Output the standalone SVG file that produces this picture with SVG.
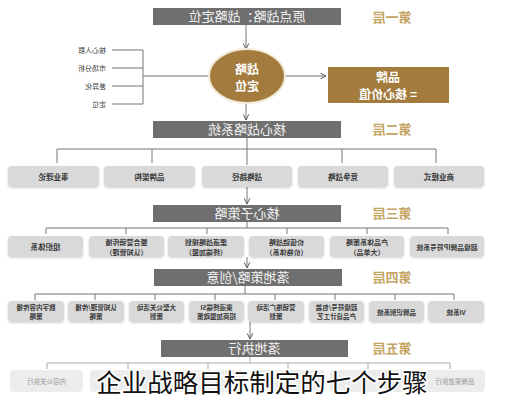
<svg xmlns="http://www.w3.org/2000/svg" width="527" height="400" viewBox="0 0 527 400">
<defs>
<marker id="ar" viewBox="0 0 10 10" refX="9" refY="5" markerWidth="7" markerHeight="7" orient="auto" markerUnits="userSpaceOnUse">
<path d="M1,1 L9,5 L1,9" fill="none" stroke="#555" stroke-width="1.4"/>
</marker>
<filter id="sh" x="-10%" y="-20%" width="120%" height="150%">
<feDropShadow dx="0" dy="1" stdDeviation="0.8" flood-color="#000" flood-opacity="0.18"/>
</filter>
</defs>
<style>
text{font-family:"Noto Sans CJK SC","Noto Sans",sans-serif;text-anchor:middle}
.bar{fill:#6f6f6f}
.bt{fill:#f2f2f2;font-size:13px}
.lay{fill:#c4a462;font-size:13px;font-weight:bold}
.bx{fill:#d9d9d9;filter:url(#sh)}
.bx5{fill:#ececec}
.t{fill:#3a3a3a;font-size:7.5px;font-weight:bold}
.t3{fill:#3a3a3a;font-size:7px;font-weight:bold}
.t4{fill:#3a3a3a;font-size:6.5px;font-weight:bold}
.t5{fill:#9a9a9a;font-size:6.5px}
.gold{fill:#a27b3d}
.wt{fill:#fff;font-size:12px;font-weight:bold}
.ln{stroke:#777;stroke-width:1;fill:none}
.lab{fill:#444;font-size:7px;text-anchor:start}
</style>
<rect width="527" height="400" fill="#fff"/>

<g id="connectors">
<line class="ln" x1="246" y1="25" x2="246" y2="49" marker-end="url(#ar)"/>
<line class="ln" x1="283" y1="76" x2="326" y2="76" marker-end="url(#ar)"/>
<line class="ln" x1="210" y1="76" x2="143" y2="76"/>
<line class="ln" x1="143" y1="50" x2="143" y2="104"/>
<line class="ln" x1="112" y1="50" x2="143" y2="50"/>
<line class="ln" x1="112" y1="68" x2="143" y2="68"/>
<line class="ln" x1="112" y1="86" x2="143" y2="86"/>
<line class="ln" x1="112" y1="104" x2="143" y2="104"/>
<line class="ln" x1="246" y1="102" x2="246" y2="120" marker-end="url(#ar)"/>
<path class="ln" d="M247,138 V149 M57,163 V149 H436 V163 M152,149 V163 M247,149 V165 M342,149 V163"/>
<line class="ln" x1="247" y1="187" x2="247" y2="204" marker-end="url(#ar)"/>
<path class="ln" d="M247,222 V228 M46,234 V228 H448 V234 M126,228 V234 M207,228 V234 M287,228 V234 M367,228 V234"/>
<line class="ln" x1="247" y1="257" x2="247" y2="268" marker-end="url(#ar)"/>
<path class="ln" d="M245,286 V294 M35,300 V294 H454 V300 M95,294 V300 M155,294 V300 M215,294 V300 M275,294 V300 M335,294 V300 M395,294 V300"/>
<line class="ln" x1="250" y1="322" x2="250" y2="339" marker-end="url(#ar)"/>
<path d="M250,357 V363 M47,369 V363 H450 V369 M128,363 V369 M208,363 V369 M288,363 V369 M368,363 V369" stroke="#aaa" stroke-width="1" fill="none"/>
</g>

<g id="layer1">
<rect class="bar" x="153" y="8" width="188" height="17"/>
</g>
<g id="core">
<ellipse cx="247" cy="76" rx="38" ry="27" class="gold" stroke="#f3ead8" stroke-width="2"/>
</g>
<g id="brand">
<rect class="gold" x="328" y="67" width="121" height="36"/>
</g>
<g id="layer2"><rect class="bar" x="153" y="121" width="188" height="17"/></g>
<g id="l2boxes">
<rect class="bx" x="8" y="166" width="91" height="21" rx="4"/>
<rect class="bx" x="104" y="166" width="91" height="21" rx="4"/>
<rect class="bx" x="202" y="166" width="90" height="21" rx="4"/>
<rect class="bx" x="298" y="166" width="90" height="21" rx="4"/>
<rect class="bx" x="394" y="166" width="90" height="21" rx="4"/>
</g>
<g id="layer3"><rect class="bar" x="153" y="205" width="188" height="17"/></g>
<g id="l3boxes">
<rect class="bx" x="8" y="236" width="75" height="21" rx="4"/>
<rect class="bx" x="89" y="236" width="75" height="21" rx="4"/>
<rect class="bx" x="168" y="236" width="76" height="21" rx="4"/>
<rect class="bx" x="249" y="236" width="75" height="21" rx="4"/>
<rect class="bx" x="330" y="236" width="74" height="21" rx="4"/>
<rect class="bx" x="410" y="236" width="74" height="21" rx="4"/>
</g>
<g id="layer4"><rect class="bar" x="154" y="269" width="188" height="17"/></g>
<g id="l4boxes">
<rect class="bx" x="8" y="301" width="56" height="21" rx="4"/>
<rect class="bx" x="68" y="301" width="56" height="21" rx="4"/>
<rect class="bx" x="129" y="301" width="55" height="21" rx="4"/>
<rect class="bx" x="189" y="301" width="55" height="21" rx="4"/>
<rect class="bx" x="248" y="301" width="56" height="21" rx="4"/>
<rect class="bx" x="309" y="301" width="55" height="21" rx="4"/>
<rect class="bx" x="369" y="301" width="55" height="21" rx="4"/>
<rect class="bx" x="428" y="301" width="56" height="21" rx="4"/>
</g>
<g id="layer5"><rect class="bar" x="161" y="340" width="187" height="17"/></g>
<g id="l5boxes">
<rect class="bx5" x="10" y="370" width="73" height="22" rx="4"/>
<rect class="bx5" x="90" y="370" width="75" height="22" rx="4"/>
<rect class="bx5" x="170" y="370" width="75" height="22" rx="4"/>
<rect class="bx5" x="250" y="370" width="75" height="22" rx="4"/>
<rect class="bx5" x="330" y="370" width="75" height="22" rx="4"/>
<rect class="bx5" x="410" y="370" width="75" height="22" rx="4"/>
</g>

<g id="mirrored-text" transform="scale(-1,1)">
<text class="bt" x="-247" y="21">原点战略：战略定位</text>
<text class="lay" x="-392" y="21.5">第一层</text>
<text class="wt" x="-247" y="73.5">战略<tspan x="-247" dy="17.5">定位</tspan></text>
<text class="wt" x="-388" y="81.5">品牌<tspan x="-388" dy="17.5">= 核心价值</tspan></text>
<text class="lab" x="-106" y="52.5">核心人群</text>
<text class="lab" x="-106" y="70.5">市场分析</text>
<text class="lab" x="-106" y="88.5">差异化</text>
<text class="lab" x="-106" y="106.5">定位</text>
<text class="bt" x="-247" y="134">核心战略系统</text>
<text class="lay" x="-392" y="134">第二层</text>
<text class="t" x="-53.5" y="179.5">事业理论</text>
<text class="t" x="-149.5" y="179.5">品牌架构</text>
<text class="t" x="-247" y="179.5">战略路径</text>
<text class="t" x="-343" y="179.5">竞争战略</text>
<text class="t" x="-439" y="179.5">商业模式</text>
<text class="bt" x="-247" y="218">核心子策略</text>
<text class="lay" x="-392" y="218">第三层</text>
<text class="t" x="-45.5" y="249.5">组织体系</text>
<text class="t3" x="-126.5" y="244.5">整合营销传播<tspan x="-126.5" dy="10">（认知管理）</tspan></text>
<text class="t3" x="-206" y="244.5">渠道战略规划<tspan x="-206" dy="10">（终端加盟）</tspan></text>
<text class="t3" x="-286.5" y="244.5">价值链战略<tspan x="-286.5" dy="10">（价格体系）</tspan></text>
<text class="t3" x="-367" y="244.5">产品体系策略<tspan x="-367" dy="10">（大单品）</tspan></text>
<text class="t" x="-447" y="249.5" style="font-size:6.8px">超级品牌IP符号系统</text>
<text class="bt" x="-248" y="282">落地策略/创意</text>
<text class="lay" x="-392" y="282">第四层</text>
<text class="t4" x="-36" y="309.5">数字内容传播<tspan x="-36" dy="9.5">策略</tspan></text>
<text class="t4" x="-96" y="309.5">认知管理/传播<tspan x="-96" dy="9.5">策略</tspan></text>
<text class="t4" x="-156.5" y="309.5">大型公关活动<tspan x="-156.5" dy="9.5">策划</tspan></text>
<text class="t4" x="-216.5" y="309.5">渠道终端SI<tspan x="-216.5" dy="9.5">招商加盟政策</tspan></text>
<text class="t4" x="-276" y="309.5">营销推广活动<tspan x="-276" dy="9.5">策划</tspan></text>
<text class="t4" x="-336.5" y="309.5">超级符号/包装<tspan x="-336.5" dy="9.5">产品设计工艺</tspan></text>
<text class="t4" x="-396.5" y="314.5">品牌识别系统</text>
<text class="t4" x="-456" y="314.5">VI系统</text>
<text class="bt" x="-254.5" y="353">落地执行</text>
<text class="lay" x="-392" y="353">第五层</text>
<text class="t5" x="-46.5" y="383.5">内容公关执行</text>
<text class="t5" x="-455" y="383.5">品牌渠道执行</text>
</g>

<text x="262" y="392" style="font-size:25.5px;fill:#111;stroke:#fff;stroke-width:3;paint-order:stroke">企业战略目标制定的七个步骤</text>
</svg>
